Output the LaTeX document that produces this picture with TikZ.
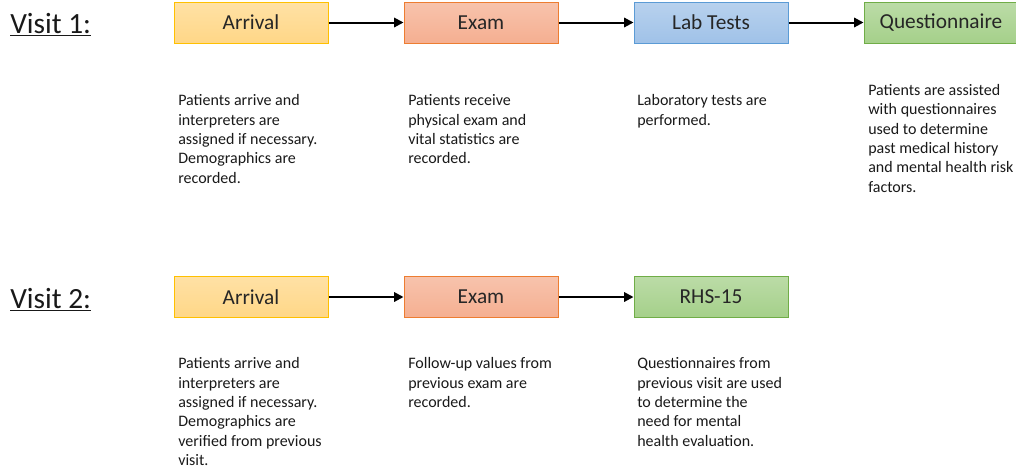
\documentclass[tikz,border=0pt]{standalone}
\usepackage{fontspec}
\setmainfont{Carlito}
\usepackage{xcolor}
\usepackage{tikz}
\usetikzlibrary{arrows.meta}

\definecolor{arrivalfill}{RGB}{255,215,135}
\definecolor{arrivaldraw}{RGB}{255,192,0}
\definecolor{examfill}{RGB}{245,175,145}
\definecolor{examdraw}{RGB}{237,125,49}
\definecolor{labfill}{RGB}{160,194,232}
\definecolor{labdraw}{RGB}{91,155,213}
\definecolor{questfill}{RGB}{165,208,138}
\definecolor{questdraw}{RGB}{112,173,71}

\tikzset{
  stepbox/.style={minimum width=115.5pt, minimum height=30.75pt, inner sep=0pt,
    line width=0.75pt, text=black!85, font=\fontsize{16}{19}\selectfont},
  arrivalbox/.style={stepbox, draw=arrivaldraw, top color=arrivalfill!75, bottom color=arrivalfill},
  exambox/.style={stepbox, draw=examdraw, top color=examfill!75, bottom color=examfill},
  labbox/.style={stepbox, draw=labdraw, top color=labfill!75, bottom color=labfill},
  questbox/.style={stepbox, draw=questdraw, top color=questfill!75, bottom color=questfill},
  desctext/.style={anchor=north west, inner sep=0pt, align=left, text=black!90,
    font=\fontsize{12}{14.5}\selectfont},
  visitlabel/.style={anchor=base west, inner sep=0pt, text=black!90, font=\fontsize{22}{26}\selectfont},
  flowarrow/.style={line width=1.5pt, -{Triangle[length=7pt,width=7pt]}}
}

\begin{document}
\begin{tikzpicture}[x=0.75pt,y=0.75pt,yscale=-1,xscale=1]
	\useasboundingbox (0,0) rectangle (1016,468);

	% Visit labels
	\node [visitlabel] (visitone) at (10,33) {\underline{Visit 1:}};
	\node [visitlabel] (visittwo) at (10,308) {\underline{Visit 2:}};

	%Shape: first visit boxes
	\node [arrivalbox] (arrivalone) at (251,22.5) {Arrival};
	\node [exambox] (examone) at (481,22.5) {Exam};
	\node [labbox] (labone) at (711,22.5) {Lab Tests};
	\node [questbox] (questone) at (941,22.5) {Questionnaire};

	%Shape: second visit boxes
	\node [arrivalbox] (arrivaltwo) at (251,297) {Arrival};
	\node [exambox] (examtwo) at (481,297) {Exam};
	\node [questbox] (rhstwo) at (711,296.5) {RHS-15};

	%Straight Lines
	\draw [flowarrow] (arrivalone) -- (examone);
	\draw [flowarrow] (examone) -- (labone);
	\draw [flowarrow] (labone) -- (questone);
	\draw [flowarrow] (arrivaltwo) -- (examtwo);
	\draw [flowarrow] (examtwo.east) -- (examtwo.east -| rhstwo.west);

	% Text Node
	\node [desctext] (arrivalonetext) at (178,94.5) {Patients arrive and\\interpreters are\\assigned if necessary.\\Demographics are\\recorded.};
	% Text Node
	\node [desctext] (examonetext) at (408,94.5) {Patients receive\\physical exam and\\vital statistics are\\recorded.};
	% Text Node
	\node [desctext] (labonetext) at (637,94.5) {Laboratory tests are\\performed.};
	% Text Node
	\node [desctext] (questonetext) at (868,84) {Patients are assisted\\with questionnaires\\used to determine\\past medical history\\and mental health risk\\factors.};
	% Text Node
	\node [desctext] (arrivaltwotext) at (178,357.5) {Patients arrive and\\interpreters are\\assigned if necessary.\\Demographics are\\verified from previous\\visit.};
	% Text Node
	\node [desctext] (examtwotext) at (408,357.5) {Follow-up values from\\previous exam are\\recorded.};
	% Text Node
	\node [desctext] (rhstwotext) at (637,357.5) {Questionnaires from\\previous visit are used\\to determine the\\need for mental\\health evaluation.};
\end{tikzpicture}
\end{document}
